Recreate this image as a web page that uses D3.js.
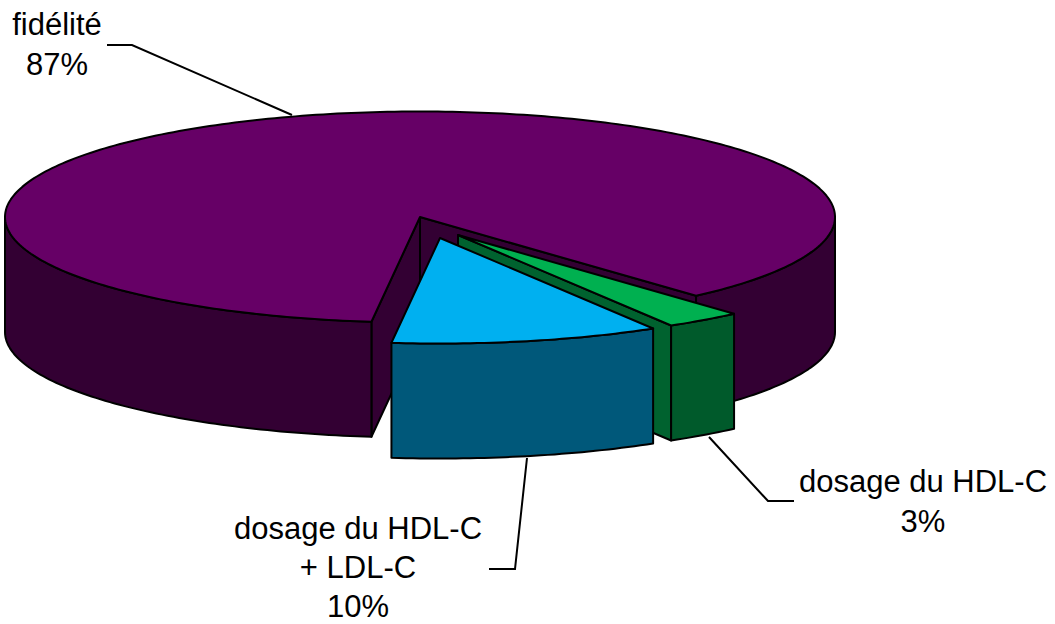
<!DOCTYPE html>
<html><head><meta charset="utf-8">
<script src="https://cdn.jsdelivr.net/npm/d3@7"></script>
<style>html,body{margin:0;padding:0;background:#fff}svg{display:block}text{font-family:"Liberation Sans",Arial,sans-serif;fill:#000}</style>
</head><body><svg id="c" width="1055" height="624"></svg>
<script>
// Data (order starts at the green slice, clockwise)
const categories = ["dosage du HDL-C", "dosage du HDL-C + LDL-C", "fidélité"];
const values = [3.0, 10.45, 86.55];
const topColors = ["#00B050", "#00B0F0", "#660066"];
const wallColors = ["#005A2B", "#00587A", "#330033"];
const innerWallColors = ["#00622F", "#00587A", "#330033"];
const labelLines = [["dosage du HDL-C"], ["dosage du HDL-C", "+ LDL-C"], ["fidélité"]];

// Layout
const rx = 415, ry = 105.5, depth = 115, cx = 420, cy = 217;
const offsets = [[38, 18], [20, 21], [0, 0]];
const startDeg = 138.3;
const labelPos = [[923, 492], [358, 539], [57, 35]];
const labelLeads = [40, 39, 40];
const labelSize = 31;
const leaders = [
  [[709, 437], [768, 501], [794, 501]],
  [[527, 458], [515, 569], [489, 569]],
  [[107, 45], [132, 45], [292, 115]]
];

const svg = d3.select("#c");
const pie = d3.pie().sort(null).value(d => d)
  .startAngle(startDeg * Math.PI / 180)
  .endAngle((startDeg + 360) * Math.PI / 180);
const arcs = pie(values);

const fx = d3.scaleLinear().domain([-1, 1]).range([-rx, rx]);
const fy = d3.scaleLinear().domain([-1, 1]).range([-ry, ry]);
const P = (a, o, dz = 0) => [o[0] + cx + fx(Math.sin(a)), o[1] + cy + fy(-Math.cos(a)) + dz];
const line = d3.line();
const STEP = Math.PI / 180;
const sample = (a0, a1) => {
  const n = Math.max(1, Math.ceil((a1 - a0) / STEP));
  return d3.range(n + 1).map(i => a0 + (a1 - a0) * i / n);
};
const outlined = s => s.attr("stroke", "#000").attr("stroke-width", 2).attr("stroke-linejoin", "round");

function drawSlice(arc, i) {
  const o = offsets[i], g = svg.append("g");
  const apex = [o[0] + cx, o[1] + cy];
  const apexLow = [apex[0], apex[1] + depth];
  const a0 = arc.startAngle, a1 = arc.endAngle;
  // Cut walls: drawn only when the edge's outward normal faces the viewer
  const wall = a => g.append("path")
    .attr("d", line([apex, P(a, o), P(a, o, depth), apexLow]) + "Z")
    .attr("fill", innerWallColors[i]).call(outlined);
  if (-Math.sin(a0) > 0) wall(a0);
  if (Math.sin(a1) > 0) wall(a1);
  // Outer wall: parts of the rim on the front half of the ellipse
  [[Math.PI / 2, 3 * Math.PI / 2], [5 * Math.PI / 2, 7 * Math.PI / 2]].forEach(([f0, f1]) => {
    const lo = Math.max(a0, f0), hi = Math.min(a1, f1);
    if (hi <= lo) return;
    const as = sample(lo, hi);
    const top = as.map(a => P(a, o));
    const bot = as.map(a => P(a, o, depth)).reverse();
    g.append("path").attr("d", line(top.concat(bot)) + "Z")
      .attr("fill", wallColors[i]).call(outlined);
  });
  // Top face
  const rim = sample(a0, a1).map(a => P(a, o));
  g.append("path").attr("d", line([apex].concat(rim)) + "Z")
    .attr("fill", topColors[i]).call(outlined);
}
[2, 0, 1].forEach(i => drawSlice(arcs[i], i));

// Leaders
leaders.forEach(pts => svg.append("path").attr("d", line(pts)).attr("fill", "none")
  .attr("stroke", "#000").attr("stroke-width", 2));

// Labels
categories.forEach((c, i) => {
  const t = svg.append("text").attr("text-anchor", "middle").attr("font-size", labelSize);
  labelLines[i].concat([Math.round(values[i]) + "%"]).forEach((s, k) =>
    t.append("tspan").attr("x", labelPos[i][0]).attr("y", labelPos[i][1] + k * labelLeads[i]).text(s));
});
</script></body></html>
